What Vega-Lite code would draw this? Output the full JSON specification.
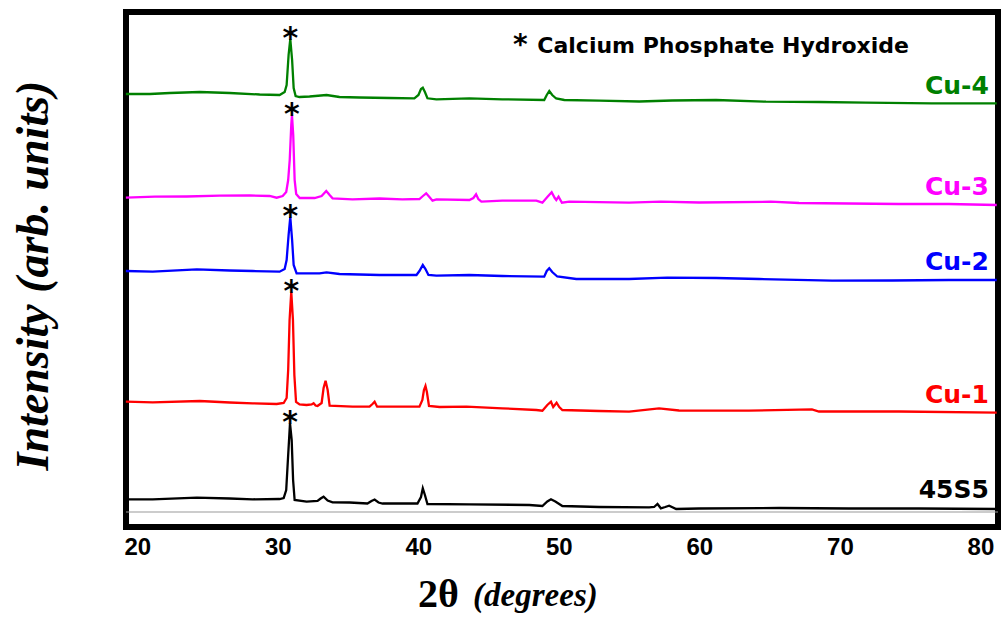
{
  "$schema": "https://vega.github.io/schema/vega-lite/v6.json",
  "autosize": {"type": "none"},
  "width": 872,
  "height": 515,
  "padding": {"left": 126, "top": 12, "right": 5, "bottom": 90},
  "background": "white",
  "datasets": {
    "lines": [
      {"s":"Cu-4","x":19.19,"y":433},{"s":"Cu-4","x":20.9,"y":433},{"s":"Cu-4","x":22.32,"y":434},{"s":"Cu-4","x":24.45,"y":435},{"s":"Cu-4","x":26.58,"y":434},{"s":"Cu-4","x":28.71,"y":432.5},{"s":"Cu-4","x":30.13,"y":432},{"s":"Cu-4","x":30.49,"y":435},{"s":"Cu-4","x":30.63,"y":442},{"s":"Cu-4","x":30.77,"y":472},{"s":"Cu-4","x":30.89,"y":488},{"s":"Cu-4","x":31.02,"y":467},{"s":"Cu-4","x":31.13,"y":439},{"s":"Cu-4","x":31.27,"y":431},{"s":"Cu-4","x":31.55,"y":430},{"s":"Cu-4","x":32.26,"y":430.5},{"s":"Cu-4","x":33.47,"y":432},{"s":"Cu-4","x":34.39,"y":430},{"s":"Cu-4","x":35.82,"y":429.5},{"s":"Cu-4","x":37.95,"y":429},{"s":"Cu-4","x":39.72,"y":428.7},{"s":"Cu-4","x":40.01,"y":432},{"s":"Cu-4","x":40.19,"y":438},{"s":"Cu-4","x":40.32,"y":439.3},{"s":"Cu-4","x":40.47,"y":435},{"s":"Cu-4","x":40.65,"y":428.7},{"s":"Cu-4","x":41.29,"y":427.7},{"s":"Cu-4","x":43.63,"y":428.7},{"s":"Cu-4","x":45.98,"y":427.7},{"s":"Cu-4","x":48.96,"y":427},{"s":"Cu-4","x":49.14,"y":432},{"s":"Cu-4","x":49.32,"y":436},{"s":"Cu-4","x":49.53,"y":432},{"s":"Cu-4","x":49.81,"y":428.5},{"s":"Cu-4","x":50.39,"y":427},{"s":"Cu-4","x":52.87,"y":426.3},{"s":"Cu-4","x":55.72,"y":425.5},{"s":"Cu-4","x":58.06,"y":426.5},{"s":"Cu-4","x":61.19,"y":427},{"s":"Cu-4","x":64.74,"y":425.3},{"s":"Cu-4","x":68.51,"y":425},{"s":"Cu-4","x":71.85,"y":424.3},{"s":"Cu-4","x":76.54,"y":423.7},{"s":"Cu-4","x":81.16,"y":423.7},
      {"s":"Cu-3","x":19.19,"y":329.3},{"s":"Cu-3","x":21.25,"y":330.3},{"s":"Cu-3","x":23.52,"y":330.5},{"s":"Cu-3","x":25.87,"y":331.3},{"s":"Cu-3","x":28.0,"y":331.5},{"s":"Cu-3","x":29.42,"y":331},{"s":"Cu-3","x":29.92,"y":329.3},{"s":"Cu-3","x":30.35,"y":331},{"s":"Cu-3","x":30.6,"y":335},{"s":"Cu-3","x":30.74,"y":347},{"s":"Cu-3","x":30.85,"y":367},{"s":"Cu-3","x":30.96,"y":402},{"s":"Cu-3","x":31.01,"y":412},{"s":"Cu-3","x":31.1,"y":392},{"s":"Cu-3","x":31.2,"y":347},{"s":"Cu-3","x":31.31,"y":333},{"s":"Cu-3","x":31.56,"y":329},{"s":"Cu-3","x":32.62,"y":329},{"s":"Cu-3","x":33.12,"y":331},{"s":"Cu-3","x":33.45,"y":336},{"s":"Cu-3","x":33.69,"y":332},{"s":"Cu-3","x":33.9,"y":328.7},{"s":"Cu-3","x":35.32,"y":327.7},{"s":"Cu-3","x":37.24,"y":328.5},{"s":"Cu-3","x":38.87,"y":327.7},{"s":"Cu-3","x":40.08,"y":328},{"s":"Cu-3","x":40.33,"y":331},{"s":"Cu-3","x":40.56,"y":333.7},{"s":"Cu-3","x":40.79,"y":330},{"s":"Cu-3","x":41.01,"y":326.3},{"s":"Cu-3","x":41.29,"y":327.7},{"s":"Cu-3","x":43.63,"y":327},{"s":"Cu-3","x":43.92,"y":329},{"s":"Cu-3","x":44.11,"y":332.7},{"s":"Cu-3","x":44.27,"y":328},{"s":"Cu-3","x":44.49,"y":325.3},{"s":"Cu-3","x":45.98,"y":326.3},{"s":"Cu-3","x":48.4,"y":326.3},{"s":"Cu-3","x":48.83,"y":324.3},{"s":"Cu-3","x":49.18,"y":330},{"s":"Cu-3","x":49.49,"y":334.7},{"s":"Cu-3","x":49.71,"y":329},{"s":"Cu-3","x":49.82,"y":327},{"s":"Cu-3","x":49.98,"y":330.3},{"s":"Cu-3","x":50.22,"y":324.3},{"s":"Cu-3","x":50.74,"y":325.3},{"s":"Cu-3","x":55.0,"y":324.3},{"s":"Cu-3","x":57.26,"y":325.3},{"s":"Cu-3","x":59.98,"y":324.5},{"s":"Cu-3","x":65.08,"y":325.3},{"s":"Cu-3","x":67.09,"y":324},{"s":"Cu-3","x":70.64,"y":323.5},{"s":"Cu-3","x":74.2,"y":323},{"s":"Cu-3","x":77.75,"y":323},{"s":"Cu-3","x":81.16,"y":322},
      {"s":"Cu-2","x":19.19,"y":256},{"s":"Cu-2","x":21.1,"y":255.3},{"s":"Cu-2","x":24.24,"y":257.7},{"s":"Cu-2","x":26.58,"y":256.5},{"s":"Cu-2","x":28.22,"y":256},{"s":"Cu-2","x":30.13,"y":255.3},{"s":"Cu-2","x":30.49,"y":258},{"s":"Cu-2","x":30.63,"y":267},{"s":"Cu-2","x":30.77,"y":292},{"s":"Cu-2","x":30.89,"y":310},{"s":"Cu-2","x":31.02,"y":287},{"s":"Cu-2","x":31.13,"y":262},{"s":"Cu-2","x":31.34,"y":253.7},{"s":"Cu-2","x":32.97,"y":253.7},{"s":"Cu-2","x":33.47,"y":254.7},{"s":"Cu-2","x":34.39,"y":253},{"s":"Cu-2","x":37.24,"y":252},{"s":"Cu-2","x":39.87,"y":252},{"s":"Cu-2","x":40.08,"y":256},{"s":"Cu-2","x":40.32,"y":262},{"s":"Cu-2","x":40.51,"y":258},{"s":"Cu-2","x":40.72,"y":252},{"s":"Cu-2","x":41.29,"y":251.3},{"s":"Cu-2","x":43.63,"y":252},{"s":"Cu-2","x":45.98,"y":251},{"s":"Cu-2","x":48.96,"y":250.3},{"s":"Cu-2","x":49.14,"y":256},{"s":"Cu-2","x":49.32,"y":258.7},{"s":"Cu-2","x":49.53,"y":255},{"s":"Cu-2","x":49.89,"y":250.5},{"s":"Cu-2","x":51.24,"y":248},{"s":"Cu-2","x":55.0,"y":248},{"s":"Cu-2","x":57.71,"y":249.3},{"s":"Cu-2","x":61.19,"y":249},{"s":"Cu-2","x":64.25,"y":248},{"s":"Cu-2","x":69.44,"y":246.3},{"s":"Cu-2","x":73.7,"y":246.5},{"s":"Cu-2","x":77.75,"y":247},{"s":"Cu-2","x":81.16,"y":247},
      {"s":"Cu-1","x":19.19,"y":125.3},{"s":"Cu-1","x":21.1,"y":124.7},{"s":"Cu-1","x":24.45,"y":126},{"s":"Cu-1","x":26.58,"y":124.5},{"s":"Cu-1","x":28.22,"y":123.7},{"s":"Cu-1","x":29.92,"y":123},{"s":"Cu-1","x":30.42,"y":124},{"s":"Cu-1","x":30.63,"y":129},{"s":"Cu-1","x":30.74,"y":157},{"s":"Cu-1","x":30.84,"y":207},{"s":"Cu-1","x":30.96,"y":235.3},{"s":"Cu-1","x":31.08,"y":207},{"s":"Cu-1","x":31.18,"y":152},{"s":"Cu-1","x":31.3,"y":125},{"s":"Cu-1","x":31.55,"y":122.5},{"s":"Cu-1","x":32.05,"y":122},{"s":"Cu-1","x":32.41,"y":122.5},{"s":"Cu-1","x":32.55,"y":123.7},{"s":"Cu-1","x":32.69,"y":121.5},{"s":"Cu-1","x":32.83,"y":121},{"s":"Cu-1","x":33.12,"y":124},{"s":"Cu-1","x":33.26,"y":139},{"s":"Cu-1","x":33.4,"y":146.3},{"s":"Cu-1","x":33.55,"y":137},{"s":"Cu-1","x":33.69,"y":121.3},{"s":"Cu-1","x":35.32,"y":120.3},{"s":"Cu-1","x":36.53,"y":120.3},{"s":"Cu-1","x":36.74,"y":123},{"s":"Cu-1","x":36.89,"y":125.3},{"s":"Cu-1","x":37.07,"y":120.3},{"s":"Cu-1","x":38.66,"y":120.3},{"s":"Cu-1","x":40.08,"y":120.3},{"s":"Cu-1","x":40.29,"y":127},{"s":"Cu-1","x":40.4,"y":137},{"s":"Cu-1","x":40.51,"y":141},{"s":"Cu-1","x":40.61,"y":135},{"s":"Cu-1","x":40.76,"y":121},{"s":"Cu-1","x":41.51,"y":120},{"s":"Cu-1","x":43.43,"y":120.3},{"s":"Cu-1","x":45.98,"y":118.7},{"s":"Cu-1","x":48.4,"y":117},{"s":"Cu-1","x":48.83,"y":116.3},{"s":"Cu-1","x":49.18,"y":122},{"s":"Cu-1","x":49.44,"y":125.3},{"s":"Cu-1","x":49.6,"y":120},{"s":"Cu-1","x":49.84,"y":124.3},{"s":"Cu-1","x":50.03,"y":120},{"s":"Cu-1","x":50.25,"y":117},{"s":"Cu-1","x":52.87,"y":116},{"s":"Cu-1","x":55.0,"y":115.3},{"s":"Cu-1","x":57.13,"y":118.7},{"s":"Cu-1","x":58.55,"y":116.5},{"s":"Cu-1","x":63.53,"y":116.3},{"s":"Cu-1","x":68.01,"y":117.7},{"s":"Cu-1","x":68.51,"y":115.5},{"s":"Cu-1","x":74.2,"y":115.5},{"s":"Cu-1","x":81.16,"y":114.3},
      {"s":"45S5","x":19.19,"y":27.7},{"s":"45S5","x":21.1,"y":27.7},{"s":"45S5","x":24.24,"y":29.3},{"s":"45S5","x":26.58,"y":28.5},{"s":"45S5","x":28.22,"y":27.7},{"s":"45S5","x":30.13,"y":28},{"s":"45S5","x":30.42,"y":29},{"s":"45S5","x":30.6,"y":37},{"s":"45S5","x":30.74,"y":72},{"s":"45S5","x":30.87,"y":103.7},{"s":"45S5","x":30.99,"y":87},{"s":"45S5","x":31.09,"y":47},{"s":"45S5","x":31.2,"y":27},{"s":"45S5","x":32.05,"y":25.3},{"s":"45S5","x":32.83,"y":26},{"s":"45S5","x":33.05,"y":28.5},{"s":"45S5","x":33.26,"y":30.3},{"s":"45S5","x":33.55,"y":26.5},{"s":"45S5","x":33.9,"y":24.7},{"s":"45S5","x":35.11,"y":24.5},{"s":"45S5","x":36.38,"y":23.5},{"s":"45S5","x":36.67,"y":26},{"s":"45S5","x":36.89,"y":27.5},{"s":"45S5","x":37.17,"y":24.5},{"s":"45S5","x":37.46,"y":23.5},{"s":"45S5","x":39.94,"y":23.5},{"s":"45S5","x":40.19,"y":30},{"s":"45S5","x":40.32,"y":38.7},{"s":"45S5","x":40.47,"y":32},{"s":"45S5","x":40.65,"y":23},{"s":"45S5","x":43.63,"y":22.7},{"s":"45S5","x":47.9,"y":22},{"s":"45S5","x":48.83,"y":21},{"s":"45S5","x":49.18,"y":25.5},{"s":"45S5","x":49.44,"y":27.7},{"s":"45S5","x":49.75,"y":25.5},{"s":"45S5","x":50.25,"y":21},{"s":"45S5","x":52.87,"y":20},{"s":"45S5","x":56.43,"y":19.7},{"s":"45S5","x":56.78,"y":20},{"s":"45S5","x":57.02,"y":23},{"s":"45S5","x":57.26,"y":18.7},{"s":"45S5","x":57.57,"y":20},{"s":"45S5","x":57.85,"y":21.3},{"s":"45S5","x":58.35,"y":18},{"s":"45S5","x":59.98,"y":18.5},{"s":"45S5","x":65.67,"y":19},{"s":"45S5","x":70.64,"y":18.5},{"s":"45S5","x":75.62,"y":18.5},{"s":"45S5","x":81.16,"y":18}
    ],
    "peaks": [
      {"s":"Cu-4","x":30.89,"y":488},{"s":"Cu-3","x":31.01,"y":412},{"s":"Cu-2","x":30.89,"y":310},{"s":"Cu-1","x":30.96,"y":235.3},{"s":"45S5","x":30.87,"y":103.7}
    ],
    "labels": [
      {"s":"Cu-4","x":80.6,"y":432.7},{"s":"Cu-3","x":80.6,"y":332},{"s":"Cu-2","x":80.6,"y":257},{"s":"Cu-1","x":80.6,"y":123.7},{"s":"45S5","x":80.6,"y":28.7}
    ],
    "one": [{}]
  },
  "layer": [
    {
      "data": {"name": "one"},
      "mark": {"type": "rule", "stroke": "#999999", "strokeWidth": 1},
      "encoding": {
        "y": {"datum": 15, "type": "quantitative", "scale": {"domain": [0, 515], "nice": false, "zero": false}, "title": "Intensity (arb. units)"}
      }
    },
    {
      "data": {"name": "lines"},
      "mark": {"type": "line", "strokeWidth": 2.3, "interpolate": "linear"},
      "encoding": {
        "x": {"field": "x", "type": "quantitative", "scale": {"domain": [19.2, 81.25], "nice": false, "zero": false}, "title": "2θ"},
        "y": {"field": "y", "type": "quantitative", "scale": {"domain": [0, 515], "nice": false, "zero": false}, "title": "Intensity (arb. units)"},
        "color": {"field": "s", "type": "nominal", "scale": {"domain": ["Cu-4", "Cu-3", "Cu-2", "Cu-1", "45S5"], "range": ["#008000", "#FF00FF", "#0000FF", "#FF0000", "#000000"]}, "legend": null}
      }
    },
    {
      "data": {"name": "peaks"},
      "mark": {"type": "text", "text": "*", "font": "DejaVu Sans", "fontWeight": "bold", "fontSize": 30, "align": "center", "baseline": "alphabetic", "dy": 9, "color": "black"},
      "encoding": {
        "x": {"field": "x", "type": "quantitative", "scale": {"domain": [19.2, 81.25], "nice": false, "zero": false}, "title": "2θ"},
        "y": {"field": "y", "type": "quantitative", "scale": {"domain": [0, 515], "nice": false, "zero": false}, "title": "Intensity (arb. units)"}
      }
    },
    {
      "data": {"name": "labels"},
      "mark": {"type": "text", "font": "DejaVu Sans", "fontWeight": "bold", "fontSize": 25, "align": "right", "baseline": "alphabetic"},
      "encoding": {
        "x": {"field": "x", "type": "quantitative", "scale": {"domain": [19.2, 81.25], "nice": false, "zero": false}, "title": "2θ"},
        "y": {"field": "y", "type": "quantitative", "scale": {"domain": [0, 515], "nice": false, "zero": false}, "title": "Intensity (arb. units)"},
        "text": {"field": "s", "type": "nominal"},
        "color": {"field": "s", "type": "nominal", "scale": {"domain": ["Cu-4", "Cu-3", "Cu-2", "Cu-1", "45S5"], "range": ["#008000", "#FF00FF", "#0000FF", "#FF0000", "#000000"]}, "legend": null}
      }
    },
    {
      "data": {"name": "one"},
      "mark": {"type": "text", "text": "*", "font": "DejaVu Sans", "fontWeight": "bold", "fontSize": 28, "align": "center", "baseline": "alphabetic", "color": "black"},
      "encoding": {
        "x": {"datum": 47.26, "type": "quantitative", "scale": {"domain": [19.2, 81.25], "nice": false, "zero": false}, "title": "2θ"},
        "y": {"datum": 473.5, "type": "quantitative", "scale": {"domain": [0, 515], "nice": false, "zero": false}, "title": "Intensity (arb. units)"}
      }
    },
    {
      "data": {"name": "one"},
      "mark": {"type": "text", "text": "Calcium Phosphate Hydroxide", "font": "DejaVu Sans", "fontWeight": "bold", "fontSize": 22, "align": "left", "baseline": "alphabetic", "color": "black"},
      "encoding": {
        "x": {"datum": 48.47, "type": "quantitative", "scale": {"domain": [19.2, 81.25], "nice": false, "zero": false}, "title": "2θ"},
        "y": {"datum": 473.7, "type": "quantitative", "scale": {"domain": [0, 515], "nice": false, "zero": false}, "title": "Intensity (arb. units)"}
      }
    },
    {
      "data": {"name": "one"},
      "mark": {"type": "text", "text": "(degrees)", "font": "Liberation Serif", "fontWeight": "bold", "fontStyle": "italic", "fontSize": 33, "align": "left", "baseline": "alphabetic", "color": "black"},
      "encoding": {
        "x": {"datum": 43.9, "type": "quantitative", "scale": {"domain": [19.2, 81.25], "nice": false, "zero": false}, "title": "2θ"},
        "y": {"datum": -79, "type": "quantitative", "scale": {"domain": [0, 515], "nice": false, "zero": false}, "title": "Intensity (arb. units)"}
      }
    }
  ],
  "config": {
    "view": {"stroke": "black", "strokeWidth": 6},
    "axisX": {
      "domain": false, "ticks": false, "grid": false, "tickCount": 7, "labelFlush": false,
      "labelFont": "Liberation Sans", "labelFontWeight": "bold", "labelFontSize": 24, "labelColor": "black", "labelPadding": 8,
      "titleFont": "Liberation Serif", "titleFontWeight": "bold", "titleFontSize": 40, "titleColor": "black",
      "titleX": 312, "titleY": 79, "titleAlign": "center", "titleBaseline": "alphabetic"
    },
    "axisY": {
      "domain": false, "ticks": false, "labels": false, "grid": false,
      "titleFont": "Liberation Serif", "titleFontStyle": "italic", "titleFontWeight": "bold", "titleFontSize": 46, "titleColor": "black",
      "titleAngle": -90, "titleX": -79, "titleY": 263, "titleAlign": "center", "titleBaseline": "alphabetic"
    }
  }
}
